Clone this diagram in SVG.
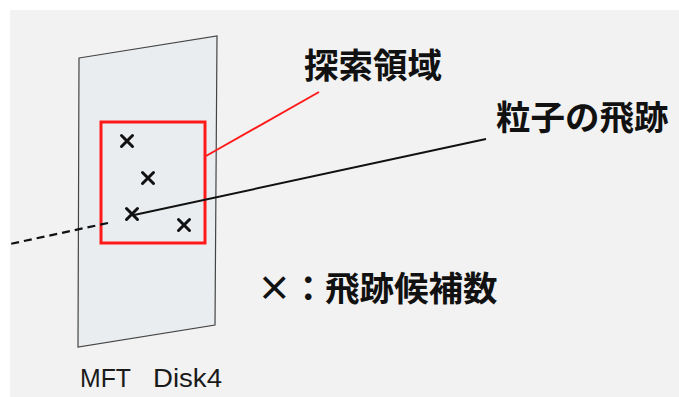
<svg xmlns="http://www.w3.org/2000/svg" width="679" height="397" viewBox="0 0 679 397">
<style>
.jp{font-family:"Noto Sans CJK JP","Noto Sans CJK SC",sans-serif;font-weight:bold;font-size:34.5px;fill:#111}
.lbl{font-family:"Liberation Sans","DejaVu Sans",sans-serif;font-size:25px;fill:#1a1a1a}
.cross{stroke:#111;stroke-width:3;stroke-linecap:round;fill:none}
</style>
<rect x="0" y="0" width="679" height="397" fill="#ffffff"/>
<rect x="10" y="10" width="669" height="387" fill="#f2f2f2"/>
<g id="disk">
<polygon points="79,58 217,36 215,325 78,347" fill="#eaedef" stroke="#444" stroke-width="1.2"/>
<text class="lbl" x="80" y="387" textLength="51" lengthAdjust="spacingAndGlyphs">MFT</text>
<text class="lbl" x="153" y="387" textLength="69" lengthAdjust="spacingAndGlyphs">Disk4</text>
</g>
<g id="search-region">
<rect x="101" y="122" width="104" height="121" fill="none" stroke="#ff1a1a" stroke-width="3"/>
</g>
<g id="candidates">
<path class="cross" d="M121.5,135.5l11,11M132.5,135.5l-11,11"/>
<path class="cross" d="M142.5,172.5l11,11M153.5,172.5l-11,11"/>
<path class="cross" d="M126.5,208.5l11,11M137.5,208.5l-11,11"/>
<path class="cross" d="M178.5,219.5l11,11M189.5,219.5l-11,11"/>
</g>
<g id="connectors">
<line x1="206" y1="156" x2="319" y2="92" stroke="#ff1a1a" stroke-width="2"/>
<line x1="134" y1="215" x2="486" y2="139" stroke="#111" stroke-width="2"/>
<line x1="108" y1="223" x2="10" y2="244" stroke="#111" stroke-width="2.2" stroke-dasharray="8,5"/>
</g>
<g id="label-search">
<text class="jp" x="304" y="78">探索領域</text>
</g>
<g id="label-track">
<text class="jp" x="496" y="130">粒子の飛跡</text>
</g>
<g id="legend">
<text class="jp" x="257" y="301">×</text>
<text class="jp" x="291" y="301">：</text>
<text class="jp" x="325" y="301">飛跡候補数</text>
</g>
</svg>
